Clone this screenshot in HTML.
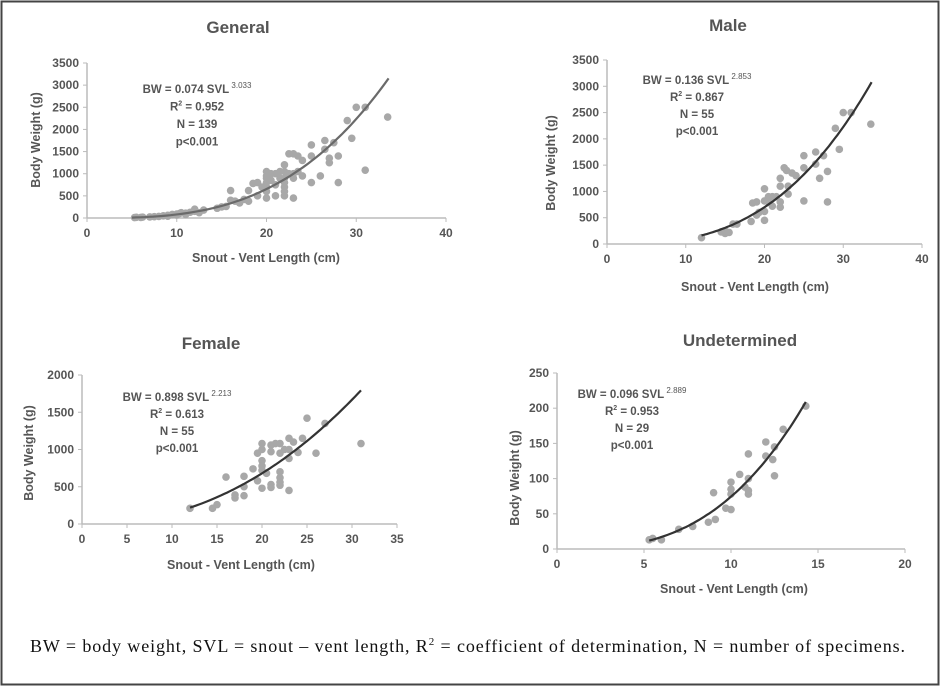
<!DOCTYPE html>
<html><head><meta charset="utf-8"><style>
html,body{margin:0;padding:0;background:#fff;}
svg{display:block;}
text{font-family:"Liberation Sans",sans-serif;fill:#555;}
</style></head><body>
<svg id="s" width="941" height="687" viewBox="0 0 941 687" xmlns="http://www.w3.org/2000/svg">
<rect x="1.5" y="1.5" width="937" height="683" fill="#fff" stroke="#444" stroke-width="2"/>
<text x="30" y="652" textLength="875" lengthAdjust="spacing" style="font-family:'Liberation Serif',serif;font-size:18px;fill:#111">BW = body weight, SVL = snout – vent length, R<tspan dy="-7" font-size="11">2</tspan><tspan dy="7"> = coefficient of determination, N = number of specimens.</tspan></text>
</svg>
<script>
var S=document.getElementById('s'),NS="http://www.w3.org/2000/svg";
function el(t,a,txt){var e=document.createElementNS(NS,t);for(var k in a)e.setAttribute(k,a[k]);if(txt!=null)e.textContent=txt;S.appendChild(e);return e;}
function chart(c){
 var X=function(v){return c.x0+(c.x1-c.x0)*v/c.xmax},Y=function(v){return c.y0-(c.y0-c.y1)*v/c.ymax};
 el('line',{x1:c.x0,y1:c.y0,x2:c.x1,y2:c.y0,stroke:'#bbb','stroke-width':1.5});
 el('line',{x1:c.x0,y1:c.y0,x2:c.x0,y2:c.y1,stroke:'#bbb','stroke-width':1.5});
 for(var v=0;v<=c.ymax+1e-9;v+=c.ys){el('line',{x1:c.x0-4,y1:Y(v),x2:c.x0,y2:Y(v),stroke:'#bbb'});el('text',{x:c.x0-8,y:Y(v)+4,'text-anchor':'end','font-size':12,'font-weight':'bold'},v);}
 for(var v=0;v<=c.xmax+1e-9;v+=c.xs){el('line',{x1:X(v),y1:c.y0,x2:X(v),y2:c.y0+4,stroke:'#bbb'});el('text',{x:X(v),y:c.y0+19,'text-anchor':'middle','font-size':12,'font-weight':'bold'},v);}
 c.pts.forEach(function(p){el('circle',{cx:X(p[0]),cy:Y(p[1]),r:c.r,fill:'#a8a8a8'});});
 var d='';for(var i=0;i<=60;i++){var xv=c.f0+(c.f1-c.f0)*i/60;d+=(i?'L':'M')+X(xv).toFixed(1)+','+Y(c.a*Math.pow(xv,c.b)).toFixed(1);}
 el('path',{d:d,fill:'none',stroke:c.lc,'stroke-width':2.2});
 el('text',{x:c.tx,y:c.ty,'text-anchor':'middle','font-size':17,'font-weight':'bold'},c.title);
 el('text',{x:c.xtx,y:c.xty,'text-anchor':'middle','font-size':12.5,'font-weight':'bold'},'Snout - Vent Length (cm)');
 el('text',{x:0,y:0,'text-anchor':'middle','font-size':12.5,'font-weight':'bold',transform:'translate('+c.ytx+','+c.yty+') rotate(-90)'},c.ylab);
 var a=c.ann,L=c.lines;
 var t=el('text',{x:a[0],y:a[1],'text-anchor':'middle','font-size':11.5,'font-weight':'bold'},L[0]);
 var sp=document.createElementNS(NS,'tspan');sp.setAttribute('dy','-5');sp.setAttribute('font-size','8');sp.setAttribute('font-weight','normal');sp.textContent=' '+L[1];t.appendChild(sp);
 var r=el('text',{x:a[0],y:a[1]+a[2],'text-anchor':'middle','font-size':11.5,'font-weight':'bold'},'R');
 var s2=document.createElementNS(NS,'tspan');s2.setAttribute('dy','-5');s2.setAttribute('font-size','7');s2.textContent='2';r.appendChild(s2);
 var s3=document.createElementNS(NS,'tspan');s3.setAttribute('dy','5');s3.textContent=' = '+L[2];r.appendChild(s3);
 el('text',{x:a[0],y:a[1]+2*a[2],'text-anchor':'middle','font-size':11.5,'font-weight':'bold'},'N = '+L[3]);
 el('text',{x:a[0],y:a[1]+3*a[2],'text-anchor':'middle','font-size':11.5,'font-weight':'bold'},'p<0.001');
}
chart({x0:87,x1:446,y0:218,y1:63,xmax:40,xs:10,ymax:3500,ys:500,r:3.8,lc:'#6a6a6a',a:0.074,b:3.033,f0:5,f1:33.6,
title:'General',tx:238,ty:33,xtx:266,xty:262,ytx:40,yty:140,ylab:'Body Weight (g)',ann:[197,93,17.5],lines:['BW  = 0.074 SVL','3.033','0.952','139'],
pts:[[5.3,10],[5.5,15],[6,12],[6.2,20],[7,25],[7.5,30],[8,35],[8.5,50],[9,60],[9,40],[9.5,80],[10,90],[10,70],[10.3,100],[10.5,120],[11,110],[11,80],[11.5,130],[12,200],[12,150],[12.5,120],[13,180],[14.5,220],[15,250],[15.5,260],[16,620],[16,400],[16.5,380],[17,340],[17.5,420],[18,620],[18,380],[18.5,780],[19,800],[19,500],[19.5,700],[20,1050],[20,950],[20,900],[20,800],[20,700],[20,600],[20,450],[20.5,1000],[20.5,850],[21,1000],[21,750],[21,500],[21.5,1050],[21.5,900],[22,1200],[22,1050],[22,900],[22,800],[22,700],[22,600],[22,500],[22.5,1450],[22.5,1000],[23,1450],[23,1000],[23,900],[23,450],[23.5,1400],[23.5,1050],[24,1300],[24,950],[25,1650],[25,1400],[25,800],[26,950],[26.5,1750],[26.5,1550],[27,1350],[27,1250],[27.5,1700],[28,1400],[28,800],[29,2200],[29.5,1800],[30,2500],[31,2500],[31,1080],[33.5,2280]]});
chart({x0:607,x1:922,y0:244,y1:60,xmax:40,xs:10,ymax:3500,ys:500,r:3.8,lc:'#333',a:0.136,b:2.853,f0:12,f1:33.6,
title:'Male',tx:728,ty:31,xtx:755,xty:291,ytx:555,yty:163,ylab:'Body Weight  (g)',ann:[697,84,17],lines:['BW = 0.136 SVL','2.853','0.867','55'],
pts:[[12,120],[14.5,230],[15,200],[15,250],[15.5,220],[16,380],[16.5,380],[18.3,430],[18.5,780],[19,800],[19,550],[19.3,600],[20,1050],[20,820],[20,620],[20,450],[20.5,900],[20.5,800],[21,900],[21,720],[21.5,900],[22,1250],[22,1100],[22,800],[22,700],[22.5,1450],[22.8,1400],[23,1100],[23,950],[23.5,1350],[24,1300],[25,1680],[25,1450],[25,820],[26.5,1750],[26.5,1520],[27,1250],[27.5,1680],[28,1380],[28,800],[29,2200],[29.5,1800],[30,2500],[31,2500],[33.5,2280]]});
chart({x0:82,x1:397,y0:524,y1:375,xmax:35,xs:5,ymax:2000,ys:500,r:3.8,lc:'#333',a:0.898,b:2.213,f0:12,f1:31,
title:'Female',tx:211,ty:349,xtx:241,xty:569,ytx:33,yty:453,ylab:'Body Weight  (g)',ann:[177,401,17],lines:['BW = 0.898 SVL','2.213','0.613','55'],
pts:[[12,210],[14.5,210],[15,260],[16,630],[17,350],[17,390],[18,640],[18,500],[18,380],[19,740],[19.5,580],[19.5,950],[20,1080],[20,1000],[20,850],[20,780],[20,720],[20,480],[20.5,680],[21,1060],[21,970],[21,530],[21,490],[21.5,1080],[22,1080],[22,950],[22,700],[22,620],[22,560],[22,520],[22.5,1000],[23,1150],[23,1000],[23,880],[23,450],[23.5,1100],[24,960],[24.5,1150],[25,1420],[26,950],[27,1350],[31,1080]]});
chart({x0:557,x1:905,y0:549,y1:373,xmax:20,xs:5,ymax:250,ys:50,r:3.8,lc:'#333',a:0.096,b:2.889,f0:5.3,f1:14.3,
title:'Undetermined',tx:740,ty:346,xtx:734,xty:593,ytx:519,yty:478,ylab:'Body Weight  (g)',ann:[632,398,17],lines:['BW = 0.096 SVL','2.889','0.953','29'],
pts:[[5.3,13],[5.5,15],[6,13],[7,28],[7.8,32],[8.7,38],[9,80],[9.1,42],[9.7,58],[10,56],[10,95],[10,85],[10,78],[10.5,106],[10.8,88],[11,135],[11,83],[11,78],[11,100],[12,152],[12,132],[12.4,127],[12.5,145],[12.5,104],[13,170],[14.3,203]]});
</script>
</body></html>
